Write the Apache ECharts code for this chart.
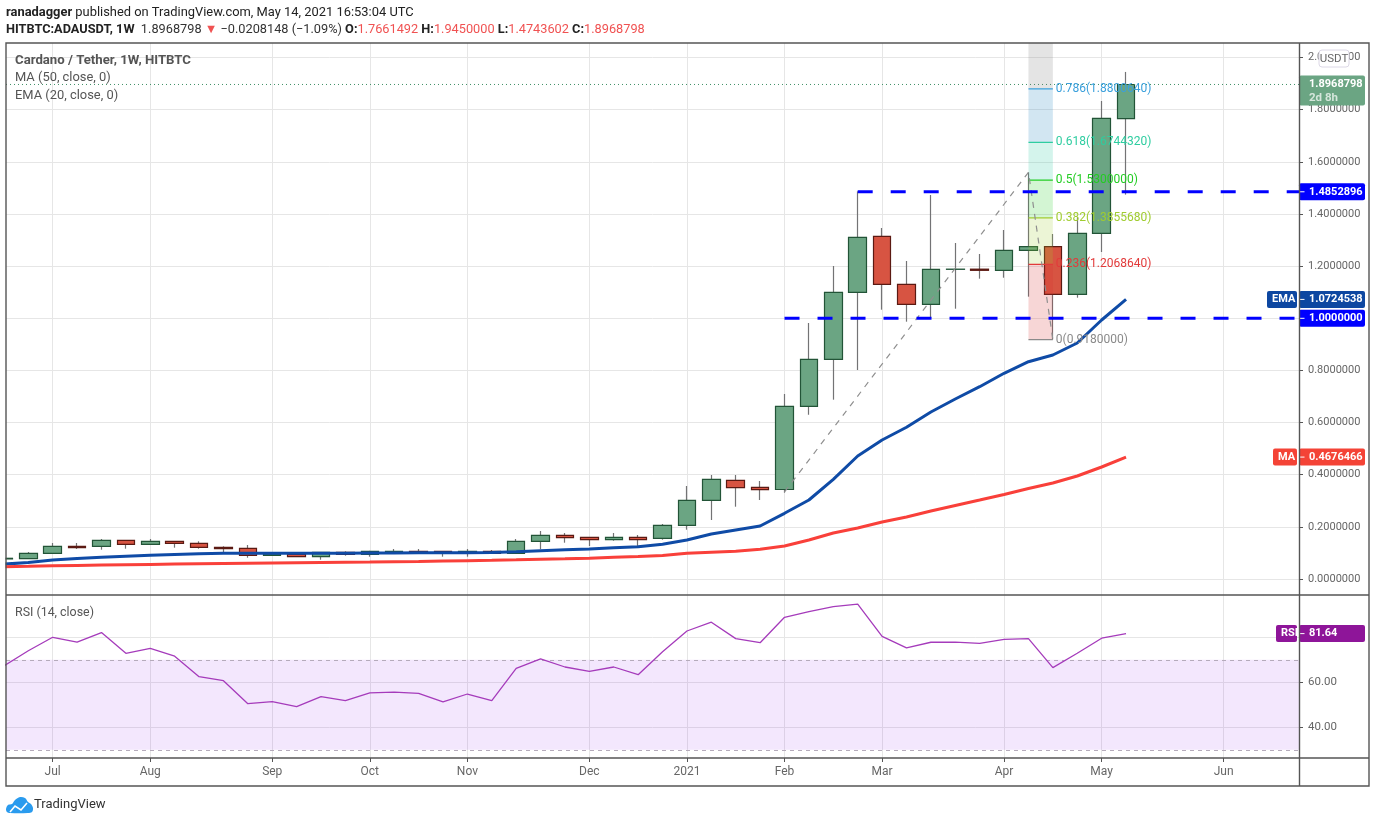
<!DOCTYPE html>
<html>
<head>
<meta charset="utf-8">
<title>Cardano / Tether, 1W</title>
<style>html,body{margin:0;padding:0;background:#fff}#c{width:1376px;height:823px}</style>
<script src="https://cdn.jsdelivr.net/npm/echarts@6/dist/echarts.min.js"></script>
</head>
<body>
<div id="c"></div>
<script>
// ---- data (index = weekly bar number) ----
const opens  = [.0770,.0779,.0986,.1254,.1254,.1484,.1331,.1446,.1369,.1216,.1178,.0909,.0947,.0855,.1024,.0947,.0985,.1062,.1062,.0986,.1062,.0986,.1446,.1676,.1600,.1508,.1600,.1561,.2060,.3019,.3786,.3517,.3433,.6624,.8427,1.0997,1.3145,1.1304,1.0537,1.1879,1.1885,1.1840,1.2608,1.2748,1.0920,1.3260,1.7661492];
const closes = [.0794,.0986,.1254,.1200,.1484,.1331,.1446,.1369,.1216,.1162,.0909,.0959,.0855,.1024,.0947,.1062,.1062,.1009,.0986,.1062,.0986,.1446,.1676,.1584,.1508,.1600,.1508,.2060,.3019,.3824,.3502,.3425,.6624,.8427,1.0997,1.3107,1.1304,1.0537,1.1879,1.1885,1.1840,1.2608,1.2748,1.0920,1.3260,1.7672,1.8968798];
const lows   = [.0770,.0779,.0986,.1151,.1124,.1162,.1331,.1201,.1162,.1009,.0817,.0882,.0855,.0740,.0894,.0855,.0986,.0986,.0855,.0855,.0986,.0986,.1139,.1392,.1266,.1469,.1239,.1508,.1891,.2263,.2773,.3030,.3310,.6300,.6878,.8017,1.0330,.9870,1.0000,1.0368,1.1520,1.1557,1.0830,.9180,1.0790,1.2543,1.4743602];
const highs  = [.0800,.1036,.1381,.1381,.1534,.1490,.1534,.1450,.1446,.1254,.1304,.0997,.0986,.1024,.1062,.1081,.1151,.1151,.1062,.1151,.1112,.1534,.1841,.1764,.1600,.1764,.1688,.2110,.3567,.3989,.3989,.3759,.7096,.9820,1.2006,1.4870,1.3463,1.2198,1.4730,1.2888,1.2466,1.3387,1.5600,1.3234,1.3880,1.8335,1.9450000];
const ema20  = [.0570,.0635,.0729,.0785,.0830,.0870,.0909,.0940,.0970,.0985,.0990,.0990,.0985,.0990,.0990,.0995,.1000,.1005,.1010,.1010,.1015,.1045,.1085,.1125,.1155,.1195,.1235,.1331,.1496,.1726,.1880,.2033,.2520,.3030,.3824,.4718,.5332,.5819,.6406,.6904,.7376,.7890,.8335,.8592,.9053,.9935,1.0724538];
const ma50   = [.0465,.0485,.0510,.0522,.0535,.0548,.0560,.0572,.0583,.0594,.0604,.0614,.0624,.0634,.0643,.0652,.0663,.0674,.0688,.0702,.0717,.0735,.0755,.0775,.0800,.0832,.0865,.0900,.0986,.1024,.1062,.1139,.1266,.1496,.1764,.1956,.2186,.2378,.2608,.2820,.3030,.3241,.3471,.3682,.3951,.4296,.4676466];
const rsi14  = [67.3,74.0,80.0,77.9,82.1,72.9,75.1,71.6,62.5,60.7,50.5,51.4,49.2,53.6,51.9,55.3,55.6,55.1,51.3,54.8,51.9,66.2,70.4,66.8,64.9,66.8,63.4,73.6,82.8,86.7,79.4,77.6,88.9,91.4,93.6,94.7,80.4,75.3,77.8,77.9,77.3,79.1,79.4,66.5,72.9,79.6,81.64];
const priceTicks = [0,.2,.4,.6,.8,1,1.2,1.4,1.6,1.8,2];
const rsiGrid = [40,60,80];
const rsiLabelled = [40,60];
const rsiBounds = [70,30];
const monthBars = [2,6,11,15,19,24,28,32,36,41,45,50];
const monthNames = ['Jul','Aug','Sep','Oct','Nov','Dec','2021','Feb','Mar','Apr','May','Jun'];
const fibPrices = [1.880064,1.674432,1.53,1.385568,1.206864,.918];
const fibTexts  = ['0.786(1.8800640)','0.618(1.6744320)','0.5(1.5300000)','0.382(1.3855680)','0.236(1.2068640)','0(0.9180000)'];
const fibBar = [42,43];
const trendBars = [32,42,43];
const trendPrices = [.334,1.56,.918];
const levelPrices = [1.4852896,1];
const levelStartBars = [35,32];
const lastPrice = 1.8968798;
const priceRange = [-.0614,2.056];
const rsiRange = [26.36,98.8];
const barRange = [.086,53.09];

// ---- styling ----
const FONT = 'Roboto, "Open Sans", sans-serif';
const GREY = '#666666', FRAME='#555555', GRID='#e6e6e6';
const fibColors = ['#3ba0dc','#2ecda0','#22cc22','#a0cc30','#e23a3a','#8a8a8a'];
const fibFills  = ['rgba(120,120,120,.2)','rgba(30,130,190,.2)','rgba(38,198,160,.2)','rgba(34,204,34,.2)','rgba(160,204,48,.2)','rgba(214,50,50,.2)'];

const idx = a => a.map((v,i)=>[i,v]);
const xEnd = barRange[1];
const series = [];

// candles: wicks, then bodies
series.push({type:'candlestick',name:'wicks',z:2,barWidth:1,silent:true,
  itemStyle:{color:'#737375',color0:'#737375',borderColor:'#737375',borderColor0:'#737375',borderWidth:1.2},
  encode:{x:0,y:[1,2,3,4]},
  data:opens.map((o,i)=>[i,o,closes[i],lows[i],highs[i]])});
series.push({type:'candlestick',name:'ADAUSDT',z:3,barWidth:18,silent:true,
  itemStyle:{color:'#6ba583',color0:'#d75442',borderColor:'#225437',borderColor0:'#5b1a13',borderWidth:1.2},
  encode:{x:0,y:[1,2,3,4]},
  data:opens.map((o,i)=>[i,o,closes[i],Math.min(o,closes[i]),Math.max(o,closes[i])])});

// averages
series.push({type:'line',name:'EMA',z:4,data:idx(ema20),showSymbol:false,silent:true,lineStyle:{color:'#0f4ba6',width:3}});
series.push({type:'line',name:'MA',z:4,data:idx(ma50),showSymbol:false,silent:true,lineStyle:{color:'#f9403a',width:3}});

// last price dotted line
series.push({type:'line',z:4,showSymbol:false,silent:true,data:[[barRange[0],lastPrice],[xEnd,lastPrice]],
  lineStyle:{color:'#3f8f66',width:1,type:[1,3]}});

// horizontal levels
levelPrices.forEach((p,i)=>series.push({type:'line',z:7,showSymbol:false,silent:true,data:[[levelStartBars[i],p],[xEnd,p]],
  lineStyle:{color:'#0000ff',width:3,type:[15,18],cap:'butt'}}));

// fibonacci bands
const bandEdges = [priceRange[1]].concat(fibPrices);
series.push({type:'line',z:6,data:[],silent:true,
  markArea:{silent:true,z:6,data:fibFills.map((c,i)=>[
    {coord:[fibBar[0],bandEdges[i]],itemStyle:{color:c,borderWidth:0}},
    {coord:[fibBar[1],bandEdges[i+1]]}])}});
fibPrices.forEach((p,i)=>{
  series.push({type:'line',z:6,showSymbol:false,silent:true,data:[[fibBar[0],p],[fibBar[1],p]],lineStyle:{color:fibColors[i],width:1.3}});
  series.push({type:'scatter',z:8,silent:true,symbolSize:0,itemStyle:{opacity:1},data:[[fibBar[1],p]],
    label:{show:true,position:'right',distance:3,formatter:fibTexts[i],color:fibColors[i],fontFamily:FONT,fontSize:12}});
});

// trend drawing
series.push({type:'line',z:6,showSymbol:false,silent:true,data:trendBars.map((b,i)=>[b,trendPrices[i]]),
  lineStyle:{color:'#8f8f8f',width:1.2,type:[6,6]}});

// right-side price tags
const TAG_FONT = {color:'#fff',fontFamily:FONT,fontSize:11,fontWeight:'bold',borderRadius:2,height:13,lineHeight:13,opacity:1};
function tag(value,text,color,grid,name,nameBox){
  const base={type:'scatter',xAxisIndex:grid,yAxisIndex:grid,clip:false,silent:true,z:20,symbolSize:0,itemStyle:{opacity:1},data:[[xEnd,value]]};
  series.push(Object.assign({},base,{label:Object.assign({show:true,position:'right',distance:0,formatter:text,
    backgroundColor:color,width:53,padding:[2,3,2,10]},TAG_FONT)}));
  if(name) series.push(Object.assign({},base,{label:Object.assign({show:true,position:'right',distance:0,offset:[-nameBox-2,0],formatter:name,
    backgroundColor:color,width:nameBox-8,padding:[2,3,2,5]},TAG_FONT)}));
  series.push({type:'scatter',xAxisIndex:grid,yAxisIndex:grid,clip:false,silent:true,z:21,symbol:'rect',symbolSize:[5,1],symbolOffset:[3,0],
    itemStyle:{color:'#fff',opacity:1},data:[[xEnd,value]]});
}
tag(levelPrices[0],levelPrices[0].toFixed(7),'#0000ff',0);
tag(levelPrices[1],levelPrices[1].toFixed(7),'#0000ff',0);
tag(ema20[ema20.length-1],ema20[ema20.length-1].toFixed(7),'#0d47a1',0,'EMA',30);
tag(ma50[ma50.length-1],ma50[ma50.length-1].toFixed(7),'#f44336',0,'MA',24);
tag(rsi14[rsi14.length-1],rsi14[rsi14.length-1].toFixed(2),'#8e1599',1,'RSI',21);
series.push({type:'scatter',clip:false,silent:true,z:20,symbolSize:0,itemStyle:{opacity:1},data:[[xEnd,lastPrice]],
  label:{show:true,position:'right',distance:0,offset:[0,6],color:'#fff',fontFamily:FONT,fontSize:11,fontWeight:'bold',opacity:1,
    backgroundColor:'#6ba583',borderRadius:2,width:53,height:26,lineHeight:13,padding:[2,3,2,10],
    formatter:'{a|'+lastPrice.toFixed(7)+'}\n{b|2d 8h}',
    rich:{a:{color:'#fff',fontWeight:'bold',fontSize:11,fontFamily:FONT,lineHeight:14},b:{color:'#d5e6db',fontSize:11.5,fontFamily:FONT,lineHeight:14}}}});

// RSI pane
series.push({type:'line',xAxisIndex:1,yAxisIndex:1,z:4,showSymbol:false,silent:true,data:idx(rsi14),lineStyle:{color:'#a53bbb',width:1.3},
  markArea:{silent:true,z:3,itemStyle:{color:'rgba(149,39,240,.11)'},data:[[{xAxis:barRange[0],yAxis:rsiBounds[0]},{xAxis:xEnd,yAxis:rsiBounds[1]}]]},
  markLine:{silent:true,symbol:'none',z:3,label:{show:false},lineStyle:{color:'#b5abbb',width:1,type:[4,4]},data:rsiBounds.map(v=>({yAxis:v}))}});

const xBase = {type:'value',min:barRange[0],max:barRange[1],axisLine:{show:false},
  splitLine:{show:true,lineStyle:{color:GRID,width:1}}};
const option = {
  animation:false,backgroundColor:'#fff',
  grid:[{left:6,right:77,top:43,height:552},{left:6,right:77,top:595,height:163}],
  xAxis:[
    Object.assign({},xBase,{gridIndex:0,axisLabel:{show:false},axisTick:{show:false,customValues:monthBars}}),
    Object.assign({},xBase,{gridIndex:1,position:'bottom',
      axisTick:{show:true,length:4,lineStyle:{color:FRAME},customValues:monthBars},
      axisLabel:{show:true,margin:8,color:GREY,fontFamily:FONT,fontSize:12,customValues:monthBars,
        formatter:v=>monthNames[monthBars.indexOf(v)]||''}})
  ],
  yAxis:[
    {type:'value',gridIndex:0,position:'right',min:priceRange[0],max:priceRange[1],axisLine:{show:false},
      axisTick:{show:true,length:4,lineStyle:{color:FRAME},customValues:priceTicks},
      axisLabel:{show:true,margin:9,color:GREY,fontFamily:FONT,fontSize:11,customValues:priceTicks,formatter:v=>v.toFixed(7)},
      splitLine:{show:true,lineStyle:{color:GRID,width:1}}},
    {type:'value',gridIndex:1,position:'right',min:rsiRange[0],max:rsiRange[1],axisLine:{show:false},
      axisTick:{show:true,length:4,lineStyle:{color:FRAME},customValues:rsiGrid},
      axisLabel:{show:true,margin:9,color:GREY,fontFamily:FONT,fontSize:11.5,customValues:rsiLabelled,formatter:v=>v.toFixed(2)},
      splitLine:{show:true,lineStyle:{color:GRID,width:1}}}
  ],
  series:series,
  graphic:{elements:[
    {type:'rect',silent:true,z:29,shape:{x:0,y:43,width:5.5,height:552},style:{fill:'#fff'}},
    {type:'rect',silent:true,z:30,shape:{x:6,y:43,width:1363,height:743},style:{fill:'none',stroke:FRAME,lineWidth:1.4}},
    {type:'line',silent:true,z:30,shape:{x1:6,y1:595,x2:1369,y2:595},style:{stroke:FRAME,lineWidth:1.4}},
    {type:'line',silent:true,z:30,shape:{x1:6,y1:758,x2:1369,y2:758},style:{stroke:FRAME,lineWidth:1.4}},
    {type:'line',silent:true,z:30,shape:{x1:1299.5,y1:43,x2:1299.5,y2:786},style:{stroke:FRAME,lineWidth:1.4}},
    {type:'rect',silent:true,z:31,shape:{x:1319,y:50,width:30,height:17,r:3},style:{fill:'#fff',stroke:'#dcd8e6',lineWidth:1}},
    {type:'text',silent:true,z:32,x:1334,y:59,style:{text:'USDT',fill:GREY,font:'11.5px '+FONT,align:'center',verticalAlign:'middle'}},
    {type:'text',silent:true,z:32,x:6,y:13,style:{text:'{b|ranadagger} published on TradingView.com, May 14, 2021 16:53:04 UTC',fill:'#222',font:'12.9px '+FONT,verticalAlign:'middle',
      rich:{b:{font:'bold 12.9px '+FONT,fill:'#222'}}}},
    {type:'text',silent:true,z:32,x:6,y:30,style:{text:'{b|HITBTC:ADAUSDT, 1W}  1.8968798 {r|▼} −0.0208148 (−1.09%) {b|O:}{r|1.7661492} {b|H:}{r|1.9450000} {b|L:}{r|1.4743602} {b|C:}{r|1.8968798}',fill:'#333',font:'12.76px '+FONT,verticalAlign:'middle',
      rich:{b:{font:'bold 12.76px '+FONT,fill:'#222'},r:{font:'12.76px '+FONT,fill:'#f05252'}}}},
    {type:'text',silent:true,z:32,x:15,y:61,style:{text:'Cardano / Tether, 1W, HITBTC',fill:'#555',font:'bold 13.2px '+FONT,verticalAlign:'middle'}},
    {type:'text',silent:true,z:32,x:15,y:78,style:{text:'MA (50, close, 0)',fill:'#555',font:'12.9px '+FONT,verticalAlign:'middle'}},
    {type:'text',silent:true,z:32,x:15,y:95.5,style:{text:'EMA (20, close, 0)',fill:'#555',font:'12.9px '+FONT,verticalAlign:'middle'}},
    {type:'text',silent:true,z:32,x:15,y:612.5,style:{text:'RSI (14, close)',fill:'#555',font:'12.4px '+FONT,verticalAlign:'middle'}},
    {type:'polygon',silent:true,z:32,shape:{smooth:0.35,points:[[6,809],[8,805],[12,804],[15,800],[20,797],[25,798],[28,802],[31,804],[33,808],[32,812],[28,813],[10,813],[7,812]]},style:{fill:'#2a9bee'}},
    {type:'polyline',silent:true,z:33,shape:{points:[[10,812],[15,806],[21,810],[27,803]]},style:{stroke:'#fff',fill:'none',lineWidth:1.6}},
    {type:'text',silent:true,z:32,x:34,y:805,style:{text:'TradingView',fill:'#333',font:'13px '+FONT,verticalAlign:'middle'}}
  ]}
};
echarts.init(document.getElementById('c'),null,{renderer:'canvas'}).setOption(option);
</script>
</body>
</html>
